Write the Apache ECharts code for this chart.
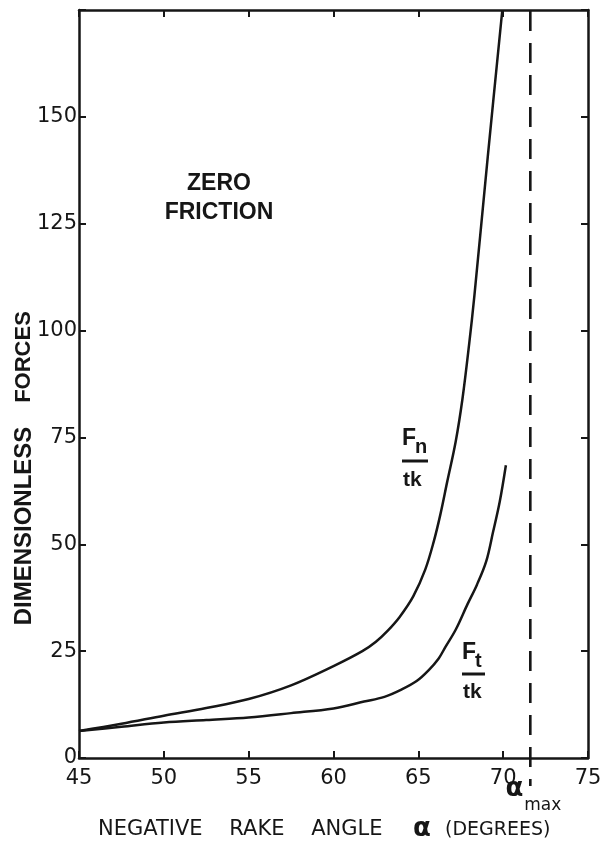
<!DOCTYPE html>
<html>
<head>
<meta charset="utf-8">
<script src="https://cdn.jsdelivr.net/npm/echarts@6/dist/echarts.min.js"></script>
<style>
html,body{margin:0;padding:0;background:#fff;}
#chart{width:609px;height:849px;}
</style>
</head>
<body>
<div id="chart"></div>
<script>
// ---- data ----
const xTicks = [45, 50, 55, 60, 65, 70, 75];
const yTicks = [0, 25, 50, 75, 100, 125, 150];
const fnData = [
  [45, 6.3], [47.5, 8.0], [50, 9.9], [52.5, 11.7], [55, 13.8], [57.5, 17.0],
  [60, 21.5], [61.7, 25.0], [62.5, 27.2], [63.2, 29.8], [63.9, 33.0],
  [64.7, 37.8], [65.4, 44.0], [65.9, 50.5], [66.3, 57.0], [66.7, 64.6],
  [67.2, 74.0], [67.6, 84.0], [68.0, 97.0], [68.3, 108.0], [69.1, 141.0],
  [69.95, 175.0]
];
const ftData = [
  [45, 6.3], [47.5, 7.3], [50, 8.3], [52.5, 8.9], [55, 9.5], [57.5, 10.5],
  [60, 11.6], [61.8, 13.2], [63, 14.3], [64, 16.0], [64.9, 18.0], [65.6, 20.5],
  [66.2, 23.3], [66.6, 26.0], [67.2, 30.0], [67.9, 36.0], [68.45, 40.5],
  [69.0, 46.0], [69.4, 52.8], [69.8, 60.0], [70.16, 68.5]
];
const alphaMax = [[71.6, 0]];
const xName = ['NEGATIVE    RAKE    ANGLE', 'α', '(DEGREES)'];
const yName = ['DIMENSIONLESS', 'FORCES'];
const note = ['ZERO', 'FRICTION'];

const INK = '#161616';
const chart = echarts.init(document.getElementById('chart'), null, {renderer: 'canvas'});

const axisCommon = {
  type: 'value',
  interval: 5,
  axisLine: {show: true, onZero: false, lineStyle: {color: INK, width: 2.5}},
  axisTick: {show: true, inside: true, length: 7, lineStyle: {color: INK, width: 2}},
  splitLine: {show: false}
};

const option = {
  animation: false,
  backgroundColor: '#fff',
  grid: {left: 79, right: 21, top: 10, bottom: 91, containLabel: false},
  xAxis: [
    Object.assign({}, axisCommon, {
      min: 45, max: 75, position: 'bottom',
      axisLabel: {show: true, margin: 10, color: INK, fontFamily: 'DejaVu Sans', fontSize: 21,
        formatter: v => xTicks.includes(v) ? String(v) : ''}
    }),
    Object.assign({}, axisCommon, {
      min: 45, max: 75, position: 'top', axisLabel: {show: false}
    })
  ],
  yAxis: [
    Object.assign({}, axisCommon, {
      min: 0, max: 175, interval: 25, position: 'left',
      axisLabel: {show: true, margin: 2, color: INK, fontFamily: 'DejaVu Sans', fontSize: 21,
        formatter: v => yTicks.includes(v) ? String(v) : ''}
    }),
    Object.assign({}, axisCommon, {
      min: 0, max: 175, interval: 25, position: 'right', axisLabel: {show: false}
    })
  ],
  series: [
    {
      name: 'Fn/tk', type: 'line', data: fnData, showSymbol: false, smooth: 0.35,
      clip: true,
      lineStyle: {color: INK, width: 2.5}
    },
    {
      name: 'Ft/tk', type: 'line', data: ftData, showSymbol: false, smooth: 0.35,
      clip: true,
      lineStyle: {color: INK, width: 2.5}
    },
    {
      name: 'alpha max', type: 'custom', data: alphaMax, clip: false,
      encode: {x: 0, y: 1},
      renderItem: function (params, api) {
        const x = api.value(0);
        const top = api.coord([x, 175]);
        const bot = api.coord([x, 0]);
        return {
          type: 'group',
          children: [
            {type: 'line', shape: {x1: top[0], y1: top[1] + 1, x2: bot[0], y2: bot[1] + 28},
              style: {stroke: INK, lineWidth: 2.6, lineDash: [20, 12]}},
            {type: 'text', x: bot[0] - 16, y: bot[1] + 31,
              style: {text: 'α', font: 'bold 26px "DejaVu Sans"', fill: INK, align: 'center', verticalAlign: 'middle'}},
            {type: 'text', x: bot[0] - 6, y: bot[1] + 48,
              style: {text: 'max', font: '17px "DejaVu Sans"', fill: INK, align: 'left', verticalAlign: 'middle'}}
          ]
        };
      }
    }
  ],
  graphic: [
    {type: 'text', x: 219, y: 184, style: {text: note[0], font: 'bold 23px "Liberation Sans"', fill: INK, align: 'center', verticalAlign: 'middle'}},
    {type: 'text', x: 219, y: 213, style: {text: note[1], font: 'bold 23px "Liberation Sans"', fill: INK, align: 'center', verticalAlign: 'middle'}},
    {type: 'text', x: 24, y: 526, rotation: Math.PI / 2, style: {text: yName[0], font: 'bold 24px "Liberation Sans"', fill: INK, align: 'center', verticalAlign: 'middle'}},
    {type: 'text', x: 24, y: 357, rotation: Math.PI / 2, style: {text: yName[1], font: 'bold 22px "Liberation Sans"', fill: INK, align: 'center', verticalAlign: 'middle'}},
    {type: 'text', x: 98, y: 830, style: {text: xName[0], font: '21px "DejaVu Sans"', fill: INK, align: 'left', verticalAlign: 'middle'}},
    {type: 'text', x: 422, y: 829, style: {text: xName[1], font: 'bold 26px "DejaVu Sans"', fill: INK, align: 'center', verticalAlign: 'middle'}},
    {type: 'text', x: 445, y: 830, style: {text: xName[2], font: '19px "DejaVu Sans"', fill: INK, align: 'left', verticalAlign: 'middle'}},
    // Fn / tk label
    {type: 'text', x: 402, y: 439, style: {text: 'F', font: 'bold 23px "Liberation Sans"', fill: INK, align: 'left', verticalAlign: 'middle'}},
    {type: 'text', x: 415, y: 447, style: {text: 'n', font: 'bold 20px "Liberation Sans"', fill: INK, align: 'left', verticalAlign: 'middle'}},
    {type: 'line', shape: {x1: 402, y1: 461, x2: 428, y2: 461}, style: {stroke: INK, lineWidth: 3}},
    {type: 'text', x: 403, y: 480, style: {text: 'tk', font: 'bold 21px "Liberation Sans"', fill: INK, align: 'left', verticalAlign: 'middle'}},
    // Ft / tk label
    {type: 'text', x: 462, y: 653, style: {text: 'F', font: 'bold 23px "Liberation Sans"', fill: INK, align: 'left', verticalAlign: 'middle'}},
    {type: 'text', x: 475, y: 661, style: {text: 't', font: 'bold 20px "Liberation Sans"', fill: INK, align: 'left', verticalAlign: 'middle'}},
    {type: 'line', shape: {x1: 462, y1: 674, x2: 485, y2: 674}, style: {stroke: INK, lineWidth: 3}},
    {type: 'text', x: 463, y: 692, style: {text: 'tk', font: 'bold 21px "Liberation Sans"', fill: INK, align: 'left', verticalAlign: 'middle'}}
  ]
};
chart.setOption(option);
</script>
</body>
</html>
